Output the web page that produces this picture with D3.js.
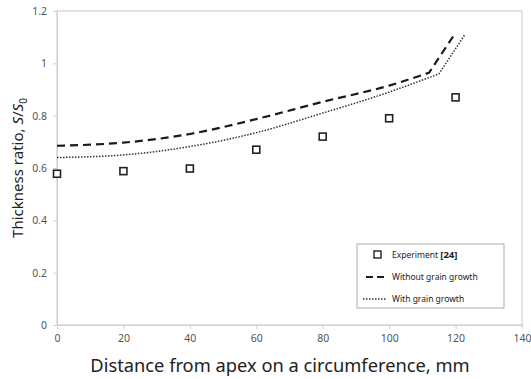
<!DOCTYPE html>
<html>
<head>
<meta charset="utf-8">
<script src="https://cdn.jsdelivr.net/npm/d3@7"></script>
<style>
  html, body { margin: 0; padding: 0; background: #fff; }
  svg { display: block; }
  text { font-family: "Noto Sans", "Open Sans", sans-serif; }
</style>
</head>
<body>
<svg id="chart" width="531" height="379"></svg>
<script>
// Measured thickness ratio S/S0 along the circumference
const expX = [0, 20, 40, 60, 80, 100, 120];
const expY = [0.578, 0.588, 0.598, 0.670, 0.720, 0.790, 0.870];

// Prediction without grain growth (smooth part up to the kink, then the final rise)
const noGrowthX = [0, 20, 40, 60, 80, 100, 112, 120];
const noGrowthY = [0.685, 0.697, 0.730, 0.787, 0.853, 0.915, 0.964, 1.117];

// Prediction with grain growth
const growthX = [0, 20, 40, 60, 80, 100, 115, 122.7];
const growthY = [0.640, 0.650, 0.682, 0.735, 0.810, 0.890, 0.960, 1.108];

const xTicks = [0, 20, 40, 60, 80, 100, 120, 140];
const yTicks = [0, 0.2, 0.4, 0.6, 0.8, 1, 1.2];

const svg = d3.select("#chart");
const plotL = 57, plotR = 522, plotT = 11, plotB = 325;

const x = d3.scaleLinear().domain([0, 140]).range([plotL, plotR]);
const y = d3.scaleLinear().domain([0, 1.2]).range([plotB, plotT]);

// Plot frame
svg.append("rect")
  .attr("x", plotL).attr("y", plotT)
  .attr("width", plotR - plotL).attr("height", plotB - plotT)
  .attr("fill", "none").attr("stroke", "#c8c8c8").attr("stroke-width", 1);

// Axes
const xAxis = svg.append("g")
  .attr("transform", `translate(0,${plotB})`)
  .call(d3.axisBottom(x).tickValues(xTicks).tickSize(4).tickPadding(6).tickFormat(d3.format("d")));
const yAxis = svg.append("g")
  .attr("transform", `translate(${plotL},0)`)
  .call(d3.axisLeft(y).tickValues(yTicks).tickSize(4).tickPadding(6).tickFormat(d => String(+d.toFixed(1))));

[xAxis, yAxis].forEach(g => {
  g.select(".domain").attr("stroke", "#d0d0d0");
  g.selectAll(".tick line").attr("stroke", "#d0d0d0");
  g.selectAll(".tick text").attr("fill", "#555").attr("font-size", 10.5)
    .attr("font-family", "'Noto Sans', sans-serif");
});

// Model curves: smooth up to the kink, straight segment after it
const smooth = d3.line().x(d => x(d[0])).y(d => y(d[1])).curve(d3.curveMonotoneX);
function curvePath(xs, ys) {
  const pts = xs.map((d, i) => [d, ys[i]]);
  const head = pts.slice(0, -1);
  const tail = pts[pts.length - 1];
  return smooth(head) + `L${x(tail[0])},${y(tail[1])}`;
}

svg.append("path")
  .attr("d", curvePath(noGrowthX, noGrowthY)).attr("fill", "none")
  .attr("stroke", "#1a1a1a").attr("stroke-width", 2.2)
  .attr("stroke-dasharray", "8,5");

svg.append("path")
  .attr("d", curvePath(growthX, growthY)).attr("fill", "none")
  .attr("stroke", "#333").attr("stroke-width", 1.5)
  .attr("stroke-dasharray", "1.5,1.5");

// Experimental markers
const ms = 7;
svg.append("g").selectAll("rect")
  .data(expX.map((d, i) => [d, expY[i]]))
  .join("rect")
  .attr("x", d => x(d[0]) - ms / 2)
  .attr("y", d => y(d[1]) - ms / 2)
  .attr("width", ms).attr("height", ms)
  .attr("fill", "#fff").attr("stroke", "#222").attr("stroke-width", 1.6);

// Axis titles
svg.append("text")
  .attr("x", 280).attr("y", 372)
  .attr("text-anchor", "middle").attr("font-size", 18.3).attr("fill", "#222")
  .text("Distance from apex on a circumference, mm");

const yTitle = svg.append("text")
  .attr("transform", `translate(23,168) rotate(-90)`)
  .attr("text-anchor", "middle").attr("font-size", 15).attr("fill", "#222");
yTitle.append("tspan").text("Thickness ratio, ");
yTitle.append("tspan").attr("font-style", "italic").text("S");
yTitle.append("tspan").text("/");
yTitle.append("tspan").attr("font-style", "italic").text("S");
yTitle.append("tspan").attr("font-size", 10).attr("dy", 3.5).text("0");

// Legend
const lg = svg.append("g").attr("transform", "translate(357,244)");
lg.append("rect").attr("width", 147).attr("height", 64)
  .attr("fill", "#fff").attr("stroke", "#999").attr("stroke-width", 0.8);

lg.append("rect").attr("x", 17).attr("y", 7).attr("width", 7).attr("height", 7)
  .attr("fill", "#fff").attr("stroke", "#222").attr("stroke-width", 1.4);
const t1 = lg.append("text").attr("x", 35).attr("y", 14).attr("font-size", 8.5).attr("fill", "#222");
t1.append("tspan").text("Experiment ");
t1.append("tspan").attr("font-weight", "bold").attr("font-size", 9.5).text("[24]");

lg.append("line").attr("x1", 9).attr("x2", 29).attr("y1", 33).attr("y2", 33)
  .attr("stroke", "#1a1a1a").attr("stroke-width", 2.2).attr("stroke-dasharray", "7,4");
lg.append("text").attr("x", 35).attr("y", 36).attr("font-size", 8.5).attr("fill", "#222")
  .text("Without grain growth");

lg.append("line").attr("x1", 6).attr("x2", 29).attr("y1", 55).attr("y2", 55)
  .attr("stroke", "#333").attr("stroke-width", 1.3).attr("stroke-dasharray", "1.5,1.5");
lg.append("text").attr("x", 35).attr("y", 58).attr("font-size", 8.5).attr("fill", "#222")
  .text("With grain growth");
</script>
</body>
</html>
